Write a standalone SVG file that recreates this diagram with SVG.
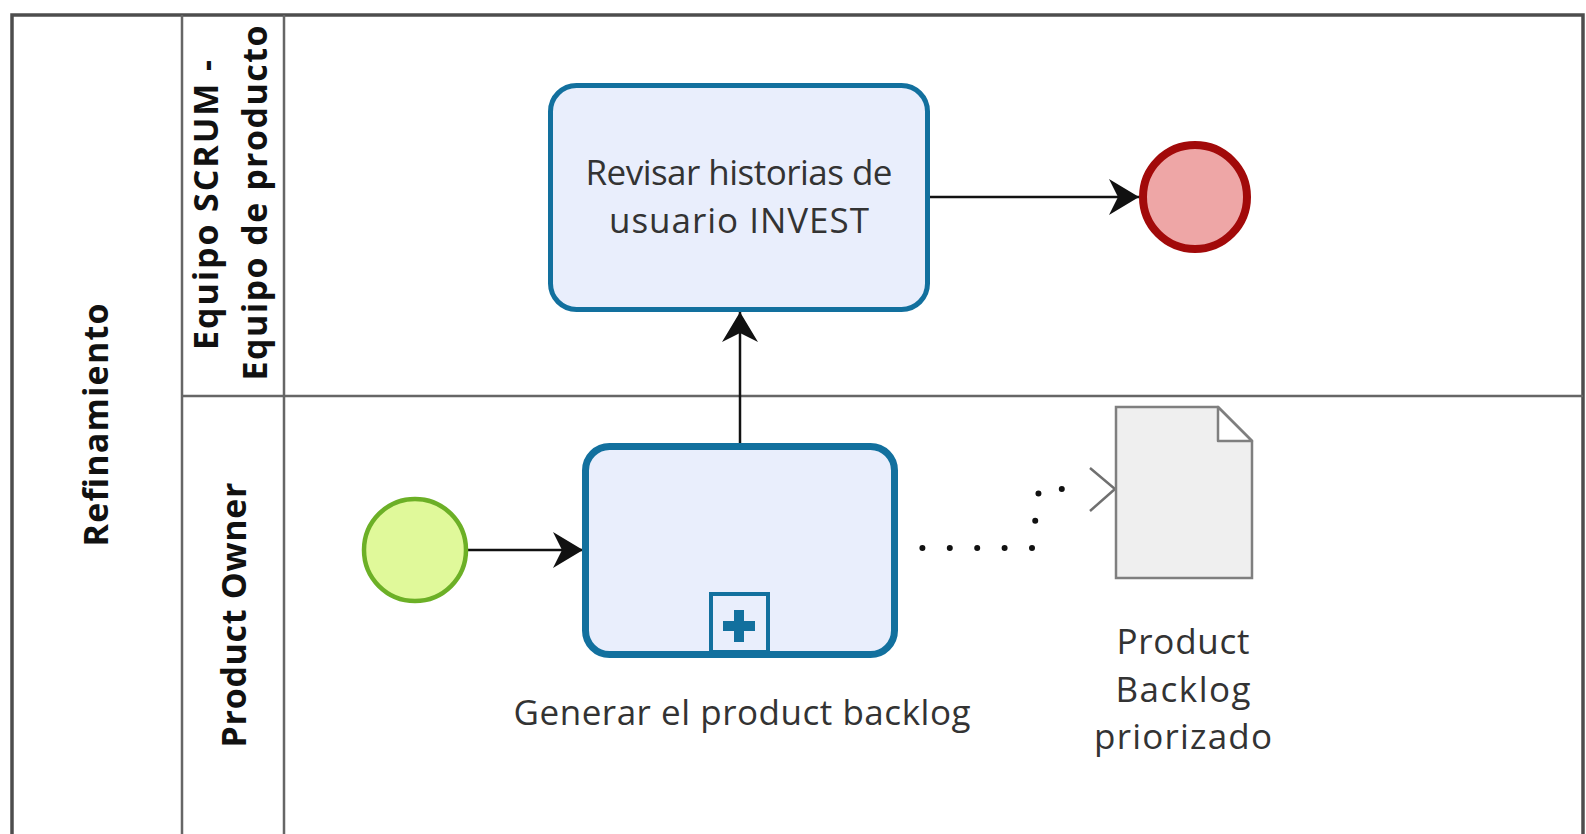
<svg xmlns="http://www.w3.org/2000/svg" width="1586" height="834" viewBox="0 0 1586 834">
  <style>
    .pool { fill: #ffffff; stroke: #4d4d4d; stroke-width: 3.5; }
    .divider { stroke: #666666; stroke-width: 2.5; fill: none; }
    .lane-label { font-family: "Open Sans", "DejaVu Sans", sans-serif; font-weight: bold; font-size: 34px; fill: #111111; text-anchor: middle; }
    .label { font-family: "Open Sans", "DejaVu Sans", sans-serif; font-size: 35px; fill: #333333; text-anchor: middle; }
    .task { fill: #e9eefc; stroke: #12709e; }
    .flow { stroke: #111111; stroke-width: 2.5; fill: none; }
    .assoc { stroke: #111111; stroke-width: 6; fill: none; stroke-dasharray: 0 27.4; stroke-linecap: round; }
  </style>
  <defs>
    <marker id="seqArrow" markerUnits="userSpaceOnUse" markerWidth="32" markerHeight="38" viewBox="0 0 32 38" refX="31" refY="19" orient="auto">
      <path d="M1,1 L31,19 L1,37 L10,19 Z" fill="#111111"/>
    </marker>
  </defs>

  <!-- pool frame and lane dividers -->
  <g id="pool">
    <rect class="pool" x="12" y="15" width="1571" height="830"/>
    <line class="divider" x1="182" y1="15" x2="182" y2="834"/>
    <line class="divider" x1="284" y1="15" x2="284" y2="834"/>
    <line class="divider" x1="182" y1="396" x2="1583" y2="396"/>
    <text class="lane-label" transform="translate(108,425) rotate(-90)" textLength="243">Refinamiento</text>
  </g>

  <g id="lane-equipo">
    <text class="lane-label" transform="translate(218,205) rotate(-90)" textLength="290">Equipo SCRUM -</text>
    <text class="lane-label" transform="translate(267,203) rotate(-90)" textLength="355">Equipo de producto</text>
  </g>

  <g id="lane-product-owner">
    <text class="lane-label" transform="translate(246,615) rotate(-90)" textLength="265">Product Owner</text>
  </g>

  <!-- connectors -->
  <g id="connectors">
    <path class="flow" d="M468,550 H583" marker-end="url(#seqArrow)"/>
    <path class="flow" d="M740,444 V312" marker-end="url(#seqArrow)"/>
    <path class="flow" d="M930,197 H1139" marker-end="url(#seqArrow)"/>
    <path class="assoc" d="M895,548 H1032 L1039,489 H1080"/>
    <polyline points="1090,468 1115,489 1090,511" fill="none" stroke="#707070" stroke-width="2.5"/>
  </g>

  <g id="start-event">
    <circle cx="415" cy="550" r="51" fill="#e0f99a" stroke="#6cb026" stroke-width="4.5"/>
  </g>

  <g id="task-revisar">
    <rect class="task" x="550.5" y="85.5" width="377" height="224" rx="26" stroke-width="5"/>
    <text class="label" x="739" y="185" textLength="307">Revisar historias de</text>
    <text class="label" x="739" y="233" textLength="260">usuario INVEST</text>
  </g>

  <g id="subprocess-generar">
    <rect class="task" x="585.5" y="446.5" width="309" height="208" rx="24" stroke-width="7"/>
    <rect x="711" y="594" width="57" height="58" fill="#e9eefc" stroke="#12709e" stroke-width="4"/>
    <path d="M723,626 H755 M739,610 V642" stroke="#12709e" stroke-width="10" fill="none"/>
    <text class="label" x="742" y="725" textLength="457">Generar el product backlog</text>
  </g>

  <g id="end-event">
    <circle cx="1195" cy="197" r="52" fill="#eea6a6" stroke="#a20a0a" stroke-width="8"/>
  </g>

  <g id="data-object">
    <path d="M1116,407 H1218 L1252,441 V578 H1116 Z" fill="#efefef" stroke="#7f7f7f" stroke-width="2.5"/>
    <path d="M1218,407 V441 H1252 Z" fill="#ffffff" stroke="#7f7f7f" stroke-width="2.5" stroke-linejoin="round"/>
    <text class="label" x="1183" y="654" textLength="133">Product</text>
    <text class="label" x="1183" y="702" textLength="135">Backlog</text>
    <text class="label" x="1183" y="749" textLength="178">priorizado</text>
  </g>
</svg>
